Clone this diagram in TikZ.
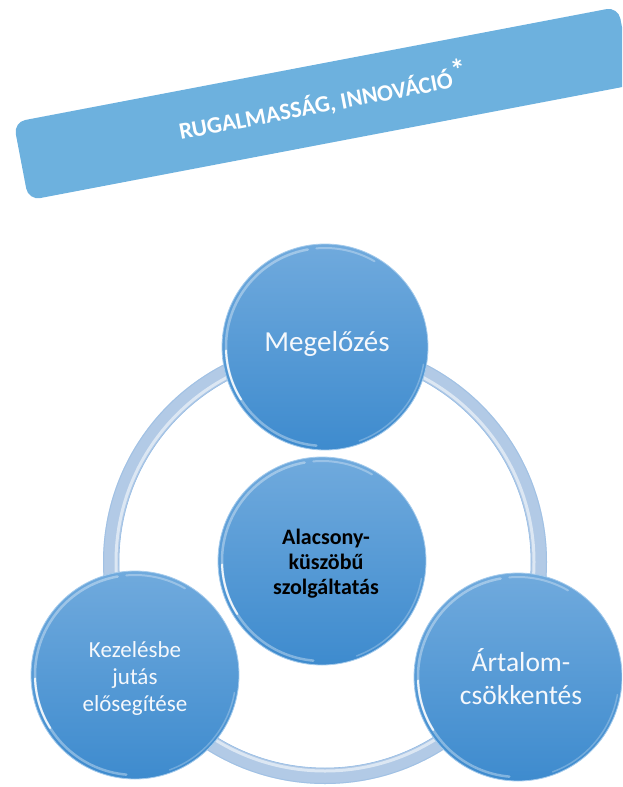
\documentclass[tikz,border=0pt]{standalone}
\usepackage{fontspec}
\setmainfont{Carlito}
\usetikzlibrary{calc}
\definecolor{bubtop}{RGB}{112,170,221}
\definecolor{bubbot}{RGB}{62,139,206}
\definecolor{bubrim}{RGB}{165,203,236}
\definecolor{ringc}{RGB}{178,202,230}
\definecolor{ringedge}{RGB}{150,188,228}
\definecolor{banc}{RGB}{109,177,222}
\definecolor{txtw}{RGB}{245,248,252}
\begin{document}
\begin{tikzpicture}[x=1pt,y=-1pt,
  bub/.style={circle, minimum size=#1, inner sep=0pt, top color=bubtop, bottom color=bubbot, draw=bubrim, line width=0.8pt, align=center},
  bantext/.style={font=\bfseries\fontsize{23.5}{26}\selectfont, text=white},
  bigtxt/.style={text=txtw, font=\fontsize{29}{33}\selectfont},
  midtxt/.style={text=txtw, font=\fontsize{27.5}{33}\selectfont},
  smalltxt/.style={text=txtw, font=\fontsize{23}{27}\selectfont},
  boldtxt/.style={text=black, font=\bfseries\fontsize{22}{25}\selectfont},
  glint/.style={white, line cap=round}
]
\useasboundingbox (0,0) rectangle (622,787);
\clip (0,0) rectangle (622,787);

% banner
\node[rectangle, rounded corners=12pt, fill=banc, rotate=10.8, minimum width=615.5pt, minimum height=79.5pt, inner sep=0pt] (ban) at (323.3,103.6) {};
\node[bantext, rotate=10.8] (bantxt) at (322.5,100.5) {RUGALMASSÁG, INNOVÁCIÓ\raisebox{0.25em}{\fontsize{30}{30}\selectfont *}};

% ring
\coordinate (rc) at (325,562);
\draw[ringc, line width=16pt] (rc) circle[radius=214pt];
\draw[white, opacity=0.55, line width=3pt] (rc) circle[radius=209pt];
\draw[ringedge, line width=0.6pt] (rc) circle[radius=206pt];
\draw[ringedge, opacity=0.6, line width=1pt] (rc) circle[radius=221.5pt];

% circles
\node[bub=206pt] (top) at (325,347) {};
\node[bub=208pt] (left) at (135,675) {};
\node[bub=208pt] (right) at (518,677) {};
\node[bub=208pt] (mid) at (322,561) {};

% glints
\foreach \n/\r in {top/103,left/104,right/104,mid/104}{
  \draw[glint, opacity=0.35, line width=2.5pt] ($(\n.center)+(100:\r pt-4pt)$) arc[start angle=100, end angle=265, radius=\r pt-4pt];
  \draw[glint, opacity=0.85, line width=2pt] ($(\n.center)+(182:\r pt-4pt)$) arc[start angle=182, end angle=212, radius=\r pt-4pt];
  \draw[glint, opacity=0.3, line width=2pt] ($(\n.center)+(60:\r pt-4pt)$) arc[start angle=60, end angle=95, radius=\r pt-4pt];
  \draw[glint, opacity=0.25, line width=1.5pt] ($(\n.center)+(290:\r pt-3pt)$) arc[start angle=290, end angle=350, radius=\r pt-3pt];
}

% texts
\node[bigtxt] (ttop) at (327,344) {Megelőzés};
\node[smalltxt, align=center] (tleft) at (135,678) {Kezelésbe\\jutás\\elősegítése};
\node[midtxt, align=center] (tright) at (521,677) {Ártalom-\\csökkentés};
\node[boldtxt, align=center] (tmid) at (326,564) {Alacsony-\\küszöbű\\szolgáltatás};
\end{tikzpicture}
\end{document}
